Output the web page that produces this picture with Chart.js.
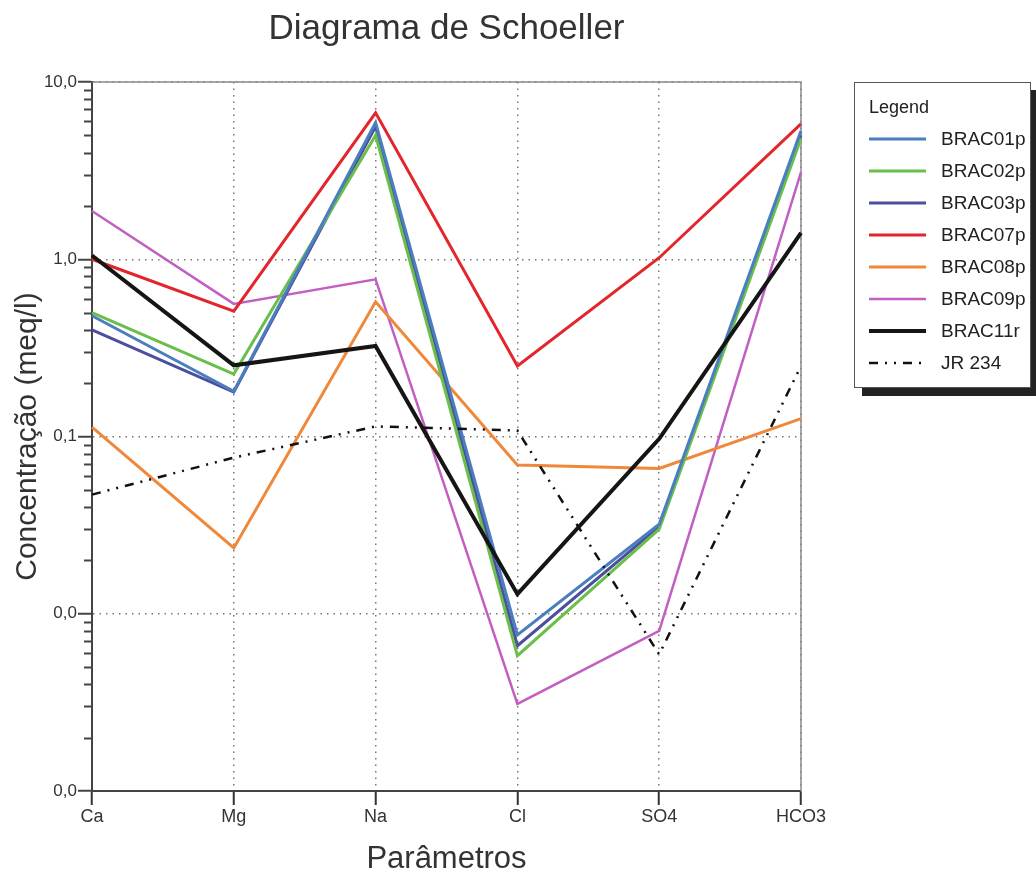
<!DOCTYPE html>
<html lang="pt">
<head>
<meta charset="utf-8">
<title>Diagrama de Schoeller</title>
<script src="https://cdn.jsdelivr.net/npm/chart.js@4.4.1/dist/chart.umd.min.js"></script>
<style>
  html, body { margin: 0; padding: 0; background: #fff; }
  #wrap { position: relative; width: 1036px; height: 870px; font-family: "Liberation Sans", Arial, sans-serif; }
  #legend {
    position: absolute; left: 854px; top: 82px; width: 177px; height: 306px;
    box-sizing: border-box; border: 1.5px solid #555; background: #fff;
    box-shadow: 8px 8px 0 #222; padding-top: 8px; color: #222;
  }
  #legend .title { height: 32px; line-height: 32px; padding-left: 14px; font-size: 18px; }
  #legend .row { height: 32px; display: flex; align-items: center; padding-left: 14px; font-size: 19px; }
  #legend svg { margin-right: 15px; flex: none; }
</style>
</head>
<body>
<div id="wrap">
  <canvas id="chart" width="1036" height="870"></canvas>
  <div id="legend"></div>
</div>
<script>
// ----- dados -----
const parametros = ['Ca', 'Mg', 'Na', 'Cl', 'SO4', 'HCO3'];

const brac01p = [0.48, 0.18, 5.9, 0.0076, 0.032, 5.3];
const brac02p = [0.50, 0.225, 5.0, 0.0058, 0.030, 4.8];
const brac03p = [0.40, 0.178, 5.6, 0.0066, 0.031, 5.0];
const brac07p = [1.0, 0.51, 6.7, 0.25, 1.02, 5.8];
const brac08p = [0.113, 0.0235, 0.575, 0.069, 0.066, 0.126];
const brac09p = [1.87, 0.56, 0.77, 0.0031, 0.0080, 3.1];
const brac11r = [1.05, 0.252, 0.324, 0.0129, 0.097, 1.41];
const jr234   = [0.047, 0.076, 0.114, 0.108, 0.0059, 0.25];

// eixo log: décadas e rótulos como no original
const decadas = [0.001, 0.01, 0.1, 1, 10];
const rotulosY = ['0,0', '0,0', '0,1', '1,0', '10,0'];
const significandos = [1, 2, 3, 4, 5, 6, 7, 8, 9];

const FONT = '"Liberation Sans", Arial, sans-serif';

const yTicks = [];
decadas.forEach(d => {
  if (d === 10) { yTicks.push(10); return; }
  significandos.forEach(s => yTicks.push(+(d * s).toPrecision(3)));
});
const isMajor = v => decadas.some(d => Math.abs(d - v) < d * 1e-6);

function serie(label, data, color, width, extra = {}) {
  return Object.assign({
    label, data,
    borderColor: color,
    backgroundColor: color,
    borderWidth: width,
    pointRadius: 0,
    tension: 0,
    fill: false,
    order: 1
  }, extra);
}

// moldura (topo/direita) + ticks menores do eixo y
const framePlugin = {
  id: 'frame',
  beforeDatasetsDraw(chart) {
    const {ctx, chartArea: a, scales: {y}} = chart;
    ctx.save();
    ctx.strokeStyle = '#8a8a8a';
    ctx.lineWidth = 1.5;
    ctx.beginPath();
    ctx.moveTo(a.left, a.top);
    ctx.lineTo(a.right, a.top);
    ctx.lineTo(a.right, a.bottom);
    ctx.stroke();

    ctx.strokeStyle = '#444';
    ctx.lineWidth = 2;
    yTicks.filter(v => !isMajor(v)).forEach(v => {
      const py = Math.round(y.getPixelForValue(v)) + 0.5;
      ctx.beginPath();
      ctx.moveTo(a.left - 8, py);
      ctx.lineTo(a.left, py);
      ctx.stroke();
    });
    ctx.restore();
  }
};

const chart = new Chart(document.getElementById('chart'), {
  type: 'line',
  data: {
    labels: parametros,
    datasets: [
      serie('BRAC01p', brac01p, '#4a7ebf', 3),
      serie('BRAC02p', brac02p, '#6abf4b', 3),
      serie('BRAC03p', brac03p, '#4c4e9e', 3),
      serie('BRAC07p', brac07p, '#e2262c', 3),
      serie('BRAC08p', brac08p, '#f0883c', 3),
      serie('BRAC09p', brac09p, '#c15fc3', 2.5),
      serie('BRAC11r', brac11r, '#151515', 4, {order: 0}),
      serie('JR 234', jr234, '#111111', 2.5, {borderDash: [9, 7, 2, 7, 2, 7], order: 0})
    ]
  },
  options: {
    responsive: false,
    animation: false,
    events: [],
    layout: { padding: { left: 0, right: 235, top: 0, bottom: 0 } },
    plugins: {
      legend: { display: false },
      tooltip: { enabled: false },
      title: {
        display: true,
        text: 'Diagrama de Schoeller',
        fullSize: false,
        color: '#333',
        font: { family: FONT, size: 35, weight: 'normal' },
        padding: { top: 8, bottom: 32 }
      }
    },
    scales: {
      x: {
        type: 'category',
        offset: false,
        afterFit(scale) { scale.height = 79; },
        grid: {
          color: '#777',
          lineWidth: 1.5,
          tickColor: '#333',
          tickLength: 14,
          tickWidth: 2
        },
        border: { display: true, color: '#444', width: 2, dash: [1.5, 5] },
        ticks: {
          color: '#333',
          font: { family: FONT, size: 18 },
          padding: 1,
          maxRotation: 0,
          autoSkip: false
        },
        title: {
          display: true,
          text: 'Parâmetros',
          color: '#333',
          font: { family: FONT, size: 31 },
          padding: { top: 0, bottom: -8 }
        }
      },
      y: {
        type: 'logarithmic',
        min: 0.001,
        max: 10,
        afterFit(scale) { scale.width = 92; },
        afterBuildTicks(scale) { scale.ticks = yTicks.map(v => ({ value: v, major: isMajor(v) })); },
        grid: {
          color: c => (c.tick && isMajor(c.tick.value)) ? '#777' : 'transparent',
          lineWidth: 1.5,
          tickColor: c => (c.tick && isMajor(c.tick.value)) ? '#444' : 'transparent',
          tickLength: 14,
          tickWidth: 2
        },
        border: { display: true, color: '#444', width: 2, dash: [1.5, 5] },
        ticks: {
          color: '#333',
          font: { family: FONT, size: 17 },
          padding: 1,
          autoSkip: false,
          callback(v) {
            const i = decadas.findIndex(d => Math.abs(d - v) < d * 1e-6);
            return i >= 0 ? rotulosY[i] : '';
          }
        },
        title: {
          display: true,
          text: 'Concentração (meq/l)',
          color: '#333',
          font: { family: FONT, size: 30 },
          padding: { top: 10, bottom: 0 }
        }
      }
    }
  },
  plugins: [framePlugin]
});

// ----- legenda em HTML (gerada a partir dos datasets) -----
const legendEl = document.getElementById('legend');
const t = document.createElement('div');
t.className = 'title';
t.textContent = 'Legend';
legendEl.appendChild(t);
chart.data.datasets.forEach(ds => {
  const row = document.createElement('div');
  row.className = 'row';
  const dash = ds.borderDash ? ` stroke-dasharray="${ds.borderDash.join(' ')}"` : '';
  row.innerHTML =
    `<svg width="57" height="8"><line x1="0" y1="4" x2="57" y2="4" stroke="${ds.borderColor}" stroke-width="${ds.borderWidth}"${dash}/></svg>` +
    `<span></span>`;
  row.querySelector('span').textContent = ds.label;
  legendEl.appendChild(row);
});
</script>
</body>
</html>
